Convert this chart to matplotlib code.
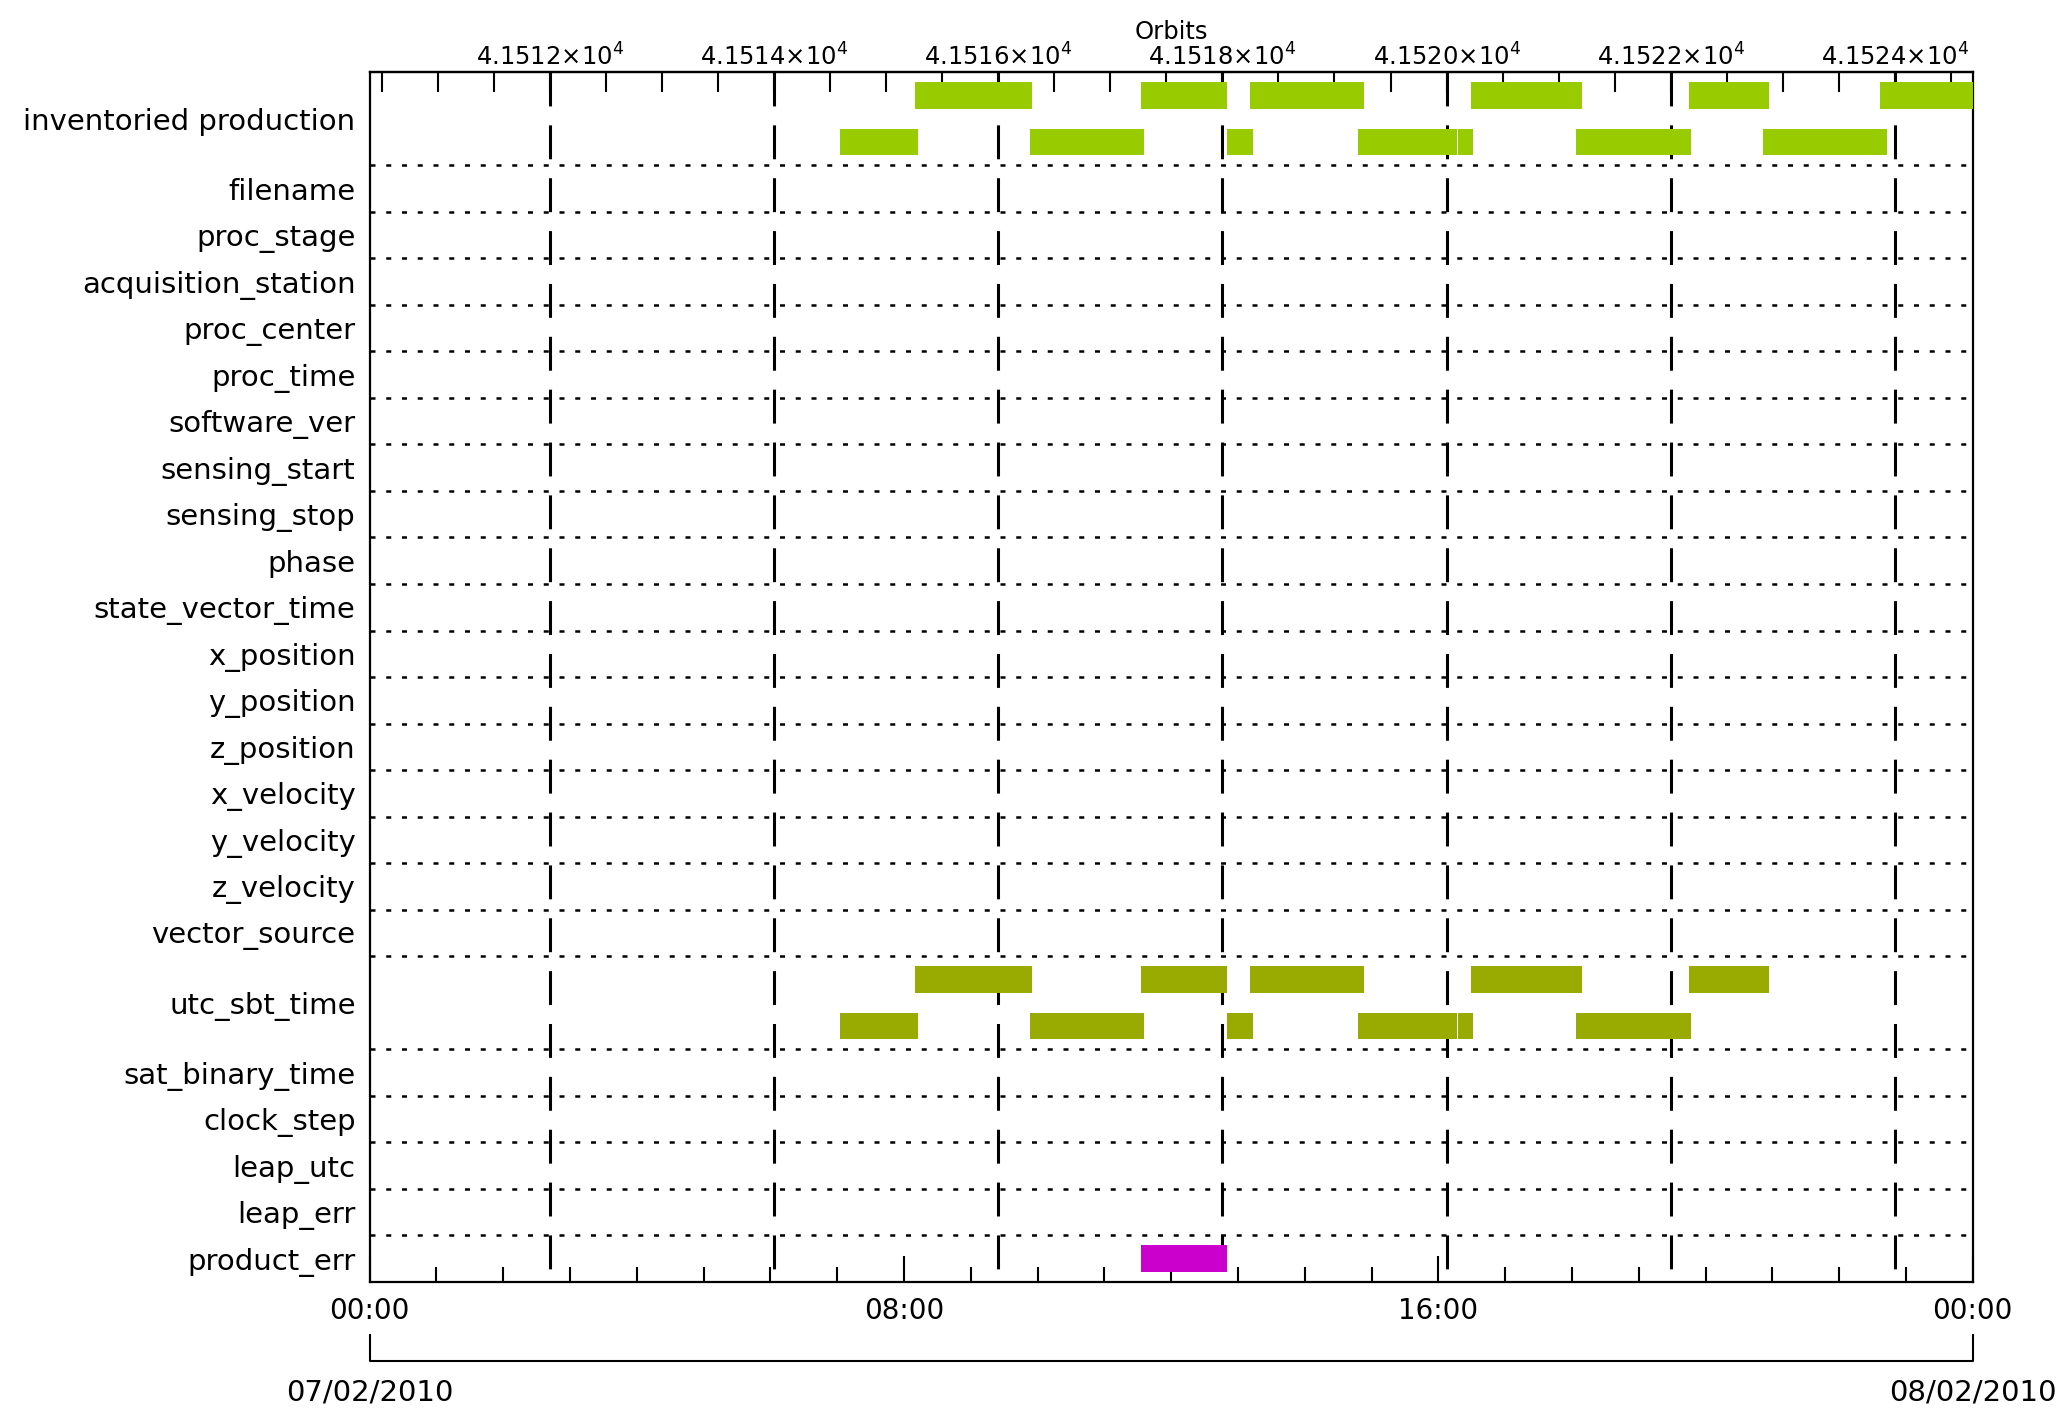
#!/usr/bin/python3

import matplotlib
matplotlib.use('Agg')
import matplotlib.pyplot as plt
from matplotlib.ticker import FixedLocator, MultipleLocator, FuncFormatter


# Rows from top to bottom, the two tall rows hold two lanes of bars
ROW_LABELS = ['inventoried production', 'filename', 'proc_stage', 'acquisition_station',
	'proc_center', 'proc_time', 'software_ver', 'sensing_start', 'sensing_stop', 'phase',
	'state_vector_time', 'x_position', 'y_position', 'z_position', 'x_velocity',
	'y_velocity', 'z_velocity', 'vector_source', 'utc_sbt_time', 'sat_binary_time',
	'clock_step', 'leap_utc', 'leap_err', 'product_err']
ROW_HEIGHTS = [2] + [1] * 17 + [2] + [1] * 5

# Bar intervals (hh:mm on 07/02/2010)
INV_TOP = [('08:10', '09:55'), ('11:33', '12:50'), ('13:11', '14:53'), ('16:29', '18:09'),
	('19:45', '20:57'), ('22:37', '24:00')]
INV_BOTTOM = [('07:03', '08:13'), ('09:53', '11:36'), ('12:50', '13:14'), ('14:48', '16:17'),
	('16:18', '16:31'), ('18:04', '19:47'), ('20:52', '22:43')]
UTC_TOP = [('08:10', '09:55'), ('11:33', '12:50'), ('13:11', '14:53'), ('16:29', '18:09'),
	('19:45', '20:57')]
UTC_BOTTOM = [('07:03', '08:13'), ('09:53', '11:36'), ('12:50', '13:14'), ('14:48', '16:17'),
	('16:18', '16:31'), ('18:04', '19:47')]
PRODUCT_ERR = [('11:33', '12:50')]

TIME_TICKS = [0, 8, 16, 24]
TIME_LABELS = ['00:00', '08:00', '16:00', '00:00']
DATE_LABELS = ['07/02/2010', '08/02/2010']

# Orbit counter at 00:00 and orbit period
ORBIT_AT_START = 41510.393
ORBIT_MINUTES = 100.7
ORBIT_TICKS = [41512, 41514, 41516, 41518, 41520, 41522, 41524]


def to_hours(t):
	h, m = t.split(':')
	return int(h) + int(m) / 60.0


def hours_to_orbit(h):
	return ORBIT_AT_START + h * 60.0 / ORBIT_MINUTES


def orbit_to_hours(o):
	return (o - ORBIT_AT_START) * ORBIT_MINUTES / 60.0


def spans(intervals):
	return [(to_hours(a), to_hours(b) - to_hours(a)) for a, b in intervals]


def main():
	fig = plt.figure(figsize=(20.62, 14.10), dpi=100)
	ax = fig.add_axes([0.1792, 0.0908, 0.7775, 0.8580])

	total = sum(ROW_HEIGHTS)
	bottoms = []
	top = total
	for h in ROW_HEIGHTS:
		top -= h
		bottoms.append(top)
	centers = [b + h / 2.0 for b, h in zip(bottoms, ROW_HEIGHTS)]

	ax.set_xlim(0, 24)
	ax.set_ylim(0, total)

	# dotted separators between rows
	for b in bottoms[:-1]:
		ax.axhline(b, color='black', lw=1.8, linestyle=(0, (2, 4.3)), zorder=1)

	# dashed lines at the labelled orbits
	for o in ORBIT_TICKS:
		x = orbit_to_hours(o)
		ax.plot([x, x], [total, 0], color='black', lw=2.2, dashes=(11.1, 6.2), zorder=1)

	green = '#99cc00'
	olive = '#99aa00'
	magenta = '#cc00cc'
	bh = 0.57
	inv = ROW_LABELS.index('inventoried production')
	utc = ROW_LABELS.index('utc_sbt_time')
	err = ROW_LABELS.index('product_err')
	ax.broken_barh(spans(INV_TOP), (bottoms[inv] + 1.5 - bh / 2, bh), facecolors=green, zorder=3)
	ax.broken_barh(spans(INV_BOTTOM), (bottoms[inv] + 0.5 - bh / 2, bh), facecolors=green, zorder=3)
	ax.broken_barh(spans(UTC_TOP), (bottoms[utc] + 1.5 - bh / 2, bh), facecolors=olive, zorder=3)
	ax.broken_barh(spans(UTC_BOTTOM), (bottoms[utc] + 0.5 - bh / 2, bh), facecolors=olive, zorder=3)
	ax.broken_barh(spans(PRODUCT_ERR), (bottoms[err] + 0.5 - bh / 2, bh), facecolors=magenta, zorder=3)

	# row names on the left
	ax.set_yticks(centers)
	ax.set_yticklabels(ROW_LABELS, fontsize=21)
	ax.tick_params(axis='y', length=0, pad=10)

	# time axis at the bottom
	ax.xaxis.set_major_locator(FixedLocator(TIME_TICKS))
	ax.set_xticklabels(TIME_LABELS, fontsize=20)
	ax.xaxis.set_minor_locator(MultipleLocator(1))
	ax.tick_params(axis='x', which='major', direction='in', length=18.7, width=1.5, pad=11, top=False)
	ax.tick_params(axis='x', which='minor', direction='in', length=10.8, width=1.5, top=False)

	for s in ax.spines.values():
		s.set_linewidth(1.6)

	# orbit axis at the top
	secax = ax.secondary_xaxis('top', functions=(hours_to_orbit, orbit_to_hours))
	secax.xaxis.set_major_locator(FixedLocator(ORBIT_TICKS))
	secax.xaxis.set_minor_locator(MultipleLocator(0.5))
	secax.xaxis.set_major_formatter(FuncFormatter(lambda o, p: '%.4f\u00d710$^{4}$' % (o / 1e4)))
	secax.tick_params(which='both', direction='in', length=14.4, width=1.5, labelsize=17.5, pad=1)
	secax.spines['top'].set_linewidth(1.6)
	secax.set_xlabel('Orbits', fontsize=17.5, labelpad=3)

	# date bracket under the time axis
	tr = ax.get_xaxis_transform()
	ax.plot([0, 0, 24, 24], [-0.044, -0.065, -0.065, -0.044], color='black', lw=1.5,
		transform=tr, clip_on=False)
	ax.text(0, -0.0915, DATE_LABELS[0], transform=tr, ha='center', va='center', fontsize=21)
	ax.text(24, -0.0915, DATE_LABELS[1], transform=tr, ha='center', va='center', fontsize=21)

	plt.savefig('out.png', dpi=100)
	plt.close()

	return


if __name__ == '__main__':
	main()
